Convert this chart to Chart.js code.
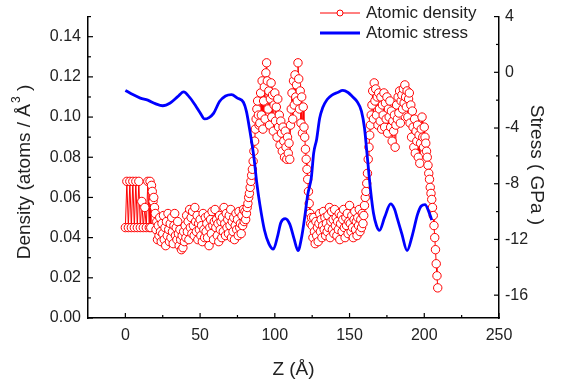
<!DOCTYPE html>
<html>
<head>
<meta charset="utf-8">
<script src="https://cdn.jsdelivr.net/npm/chart.js@4.4.1/dist/chart.umd.min.js"></script>
<style>
  html, body { margin: 0; padding: 0; background: #fff; }
</style>
</head>
<body>
<canvas id="densityChart" width="562" height="384"></canvas>
<script>
// sampling grid helper for the Z axis (positions only, not data)
function range(start, end, step) {
  const out = [];
  for (let v = start; v <= end + 1e-9; v += step) out.push(+v.toFixed(2));
  return out;
}

// Z positions (Å) of the density profile
const densityZ = [...range(0, 16, 1), ...range(16.5, 209, 0.5)];

// atomic density (atoms / Å^3)
const density = [
  // 0 - 16 (step 1)
  0.045, 0.068, 0.045, 0.068, 0.045, 0.068, 0.045, 0.068, 0.045, 0.068,
  0.045, 0.058, 0.045, 0.055, 0.045, 0.068, 0.045,
  // 16.5 - 19.5
  0.068, 0.045, 0.066, 0.063, 0.058, 0.060, 0.055,
  // 20 - 79.5
  0.052, 0.044, 0.048, 0.039, 0.046, 0.041, 0.050, 0.043, 0.038, 0.047,
  0.042, 0.051, 0.039, 0.045, 0.036, 0.048, 0.041, 0.052, 0.044, 0.038,
  0.047, 0.040, 0.050, 0.043, 0.037, 0.046, 0.052, 0.041, 0.045, 0.039,
  0.048, 0.042, 0.036, 0.044, 0.039, 0.034, 0.041, 0.035, 0.043, 0.038,
  0.046, 0.040, 0.051, 0.043, 0.048, 0.039, 0.054, 0.045, 0.050, 0.042,
  0.053, 0.046, 0.041, 0.055, 0.048, 0.043, 0.051, 0.039, 0.047, 0.044,
  0.049, 0.041, 0.046, 0.038, 0.052, 0.044, 0.040, 0.050, 0.043, 0.047,
  0.040, 0.051, 0.036, 0.045, 0.049, 0.042, 0.053, 0.046, 0.039, 0.048,
  0.054, 0.045, 0.049, 0.041, 0.047, 0.038, 0.051, 0.044, 0.048, 0.040,
  0.050, 0.043, 0.055, 0.047, 0.041, 0.052, 0.045, 0.049, 0.042, 0.051,
  0.046, 0.054, 0.040, 0.048, 0.043, 0.050, 0.039, 0.046, 0.052, 0.044,
  0.049, 0.041, 0.053, 0.045, 0.047, 0.042, 0.051, 0.046, 0.054, 0.048,
  // 80 - 89.5
  0.053, 0.049, 0.052, 0.055, 0.057, 0.060, 0.062, 0.065, 0.068, 0.071,
  0.074, 0.078, 0.083, 0.088, 0.094, 0.099, 0.104, 0.108, 0.101, 0.096,
  // 90 - 119.5
  0.097, 0.112, 0.101, 0.118, 0.094, 0.108, 0.115, 0.099, 0.122, 0.127,
  0.118, 0.104, 0.113, 0.096, 0.109, 0.117, 0.100, 0.111, 0.093, 0.106,
  0.112, 0.098, 0.105, 0.090, 0.109, 0.095, 0.101, 0.086, 0.098, 0.092,
  0.083, 0.095, 0.088, 0.080, 0.093, 0.085, 0.079, 0.090, 0.082, 0.087,
  0.079, 0.096, 0.104, 0.112, 0.099, 0.118, 0.106, 0.121, 0.110, 0.116,
  0.108, 0.127, 0.119, 0.104, 0.113, 0.097, 0.110, 0.092, 0.105, 0.095,
  // 120 - 124.5
  0.090, 0.084, 0.079, 0.074, 0.069, 0.063, 0.057, 0.052, 0.047, 0.050,
  // 125 - 159.5
  0.046, 0.040, 0.050, 0.043, 0.037, 0.048, 0.041, 0.045, 0.038, 0.047,
  0.052, 0.043, 0.049, 0.040, 0.046, 0.053, 0.044, 0.050, 0.041, 0.047,
  0.043, 0.051, 0.045, 0.055, 0.040, 0.048, 0.053, 0.044, 0.049, 0.042,
  0.054, 0.046, 0.050, 0.041, 0.048, 0.044, 0.052, 0.039, 0.047, 0.051,
  0.043, 0.049, 0.054, 0.045, 0.040, 0.050, 0.046, 0.052, 0.042, 0.048,
  0.056, 0.047, 0.043, 0.051, 0.045, 0.040, 0.049, 0.053, 0.044, 0.048,
  0.041, 0.050, 0.046, 0.054, 0.043, 0.049, 0.045, 0.052, 0.047, 0.051,
  // 160 - 204.5
  0.056, 0.060, 0.063, 0.067, 0.072, 0.079, 0.085, 0.091, 0.096, 0.101,
  0.106, 0.113, 0.099, 0.117, 0.108, 0.114, 0.101, 0.110, 0.096, 0.112,
  0.104, 0.098, 0.110, 0.094, 0.106, 0.101, 0.112, 0.095, 0.107, 0.099,
  0.110, 0.092, 0.104, 0.100, 0.108, 0.095, 0.103, 0.088, 0.098, 0.093,
  0.101, 0.085, 0.096, 0.106, 0.099, 0.110, 0.102, 0.113, 0.097, 0.108,
  0.111, 0.104, 0.114, 0.107, 0.116, 0.110, 0.105, 0.113, 0.100, 0.109,
  0.112, 0.097, 0.106, 0.090, 0.103, 0.095, 0.085, 0.099, 0.082, 0.093,
  0.088, 0.096, 0.080, 0.091, 0.077, 0.087, 0.094, 0.100, 0.090, 0.085,
  0.095, 0.090, 0.087, 0.083, 0.080, 0.076, 0.072, 0.069, 0.065, 0.062,
  // 205 - 209
  0.059, 0.055, 0.051, 0.046, 0.040, 0.034, 0.027, 0.021, 0.015
];

// atomic stress (GPa) along Z
const stressZ = [
  0, 5, 10, 15, 20, 25, 30, 35, 39, 43, 47, 50, 53, 56, 59, 63, 67, 71, 75, 79,
  81, 83, 86, 88, 90, 93, 96, 99, 102, 104, 107, 110, 113, 115.5, 118, 120, 122,
  124.5, 126, 128, 130, 132, 135, 138, 142, 145.5, 149, 152, 155, 158, 160, 162,
  164, 166, 168, 170, 173.5, 177.5, 180, 182, 185, 188.5, 192, 195.5, 198, 200.5,
  203, 205
];
const stress = [
  -1.3, -1.6, -1.85, -2.0, -2.25, -2.4, -2.2, -1.75, -1.4, -1.8, -2.4, -2.9, -3.35, -3.25, -2.95, -2.1, -1.7, -1.6, -1.85, -2.15,
  -2.8, -4.0, -6.1, -8.0, -9.5, -11.3, -12.3, -12.7, -11.7, -10.8, -10.5, -10.9, -12.0, -12.8, -11.8, -10.4, -8.8,
  -7.5, -5.8, -4.8, -3.3, -2.55, -1.95, -1.65, -1.45, -1.3, -1.45, -1.75, -2.1, -2.8, -4.0, -6.2,
  -8.4, -10.1, -11.0, -11.35, -10.4, -9.45, -9.8, -10.5, -11.6, -12.8, -11.7, -10.2, -9.6, -9.5,
  -10.0, -10.6
];

// axis ticks
const zTicks = [0, 50, 100, 150, 200, 250];
const zMinor = [25, 75, 125, 175, 225];
const densityTicks = [0, 0.02, 0.04, 0.06, 0.08, 0.10, 0.12, 0.14];
const densityMinor = [0.01, 0.03, 0.05, 0.07, 0.09, 0.11, 0.13, 0.15];
const stressTicks = [4, 0, -4, -8, -12, -16];
const stressMinor = [2, -2, -6, -10, -14];

const FONT = "'Liberation Sans', Arial, sans-serif";
const TEXT = '#222';

Chart.defaults.font.family = FONT;
Chart.defaults.color = TEXT;

function setTicks(values) {
  return function (scale) {
    scale.ticks = values.map(v => ({ value: v }));
  };
}

// inward ticks, axis titles and legend
const decor = {
  id: 'decor',
  afterDraw(chart) {
    const ctx = chart.ctx;
    const area = chart.chartArea;
    const { x, y, y2 } = chart.scales;
    ctx.save();
    ctx.strokeStyle = '#000';
    ctx.lineWidth = 1.2;

    const seg = (x1, y1, x2, y2_) => {
      ctx.beginPath();
      ctx.moveTo(x1, y1);
      ctx.lineTo(x2, y2_);
      ctx.stroke();
    };
    zTicks.forEach(v => { const p = x.getPixelForValue(v); seg(p, area.bottom, p, area.bottom - 5); });
    zMinor.forEach(v => { const p = x.getPixelForValue(v); seg(p, area.bottom, p, area.bottom - 3); });
    densityTicks.forEach(v => { const p = y.getPixelForValue(v); seg(area.left, p, area.left + 5, p); });
    densityMinor.forEach(v => { const p = y.getPixelForValue(v); seg(area.left, p, area.left + 3, p); });
    stressTicks.forEach(v => { const p = y2.getPixelForValue(v); seg(area.right, p, area.right - 5, p); });
    stressMinor.forEach(v => { const p = y2.getPixelForValue(v); seg(area.right, p, area.right - 3, p); });

    // axis titles
    ctx.fillStyle = TEXT;
    ctx.textBaseline = 'middle';
    ctx.textAlign = 'center';
    ctx.font = '19px ' + FONT;
    ctx.fillText('Z (Å)', (area.left + area.right) / 2, 370);

    // left title with superscript 3
    ctx.save();
    ctx.translate(25, 172);
    ctx.rotate(-Math.PI / 2);
    const partA = 'Density (atoms / Å';
    const partB = ' )';
    ctx.font = '19px ' + FONT;
    const wA = ctx.measureText(partA).width;
    const wB = ctx.measureText(partB).width;
    ctx.font = '12px ' + FONT;
    const wS = ctx.measureText('3').width + 1;
    const sx = -(wA + wS + wB) / 2;
    ctx.textAlign = 'left';
    ctx.font = '19px ' + FONT;
    ctx.fillText(partA, sx, 0);
    ctx.font = '12px ' + FONT;
    ctx.fillText('3', sx + wA + 1, -8);
    ctx.font = '19px ' + FONT;
    ctx.fillText(partB, sx + wA + wS, 0);
    ctx.restore();

    ctx.save();
    ctx.translate(536, 165);
    ctx.rotate(Math.PI / 2);
    ctx.textAlign = 'center';
    ctx.font = '19px ' + FONT;
    ctx.fillText('Stress ( GPa )', 0, 0);
    ctx.restore();

    // legend
    ctx.textAlign = 'left';
    ctx.font = '17px ' + FONT;
    ctx.strokeStyle = '#ff0000';
    ctx.lineWidth = 1;
    seg(320, 13, 360, 13);
    ctx.beginPath();
    ctx.arc(340, 13, 3, 0, Math.PI * 2);
    ctx.fillStyle = '#fff';
    ctx.fill();
    ctx.stroke();
    ctx.fillStyle = TEXT;
    ctx.fillText(chart.data.datasets[0].label, 366, 13);

    ctx.strokeStyle = '#0000ff';
    ctx.lineWidth = 2.8;
    seg(320, 33, 360, 33);
    ctx.fillText(chart.data.datasets[1].label, 366, 33);
    ctx.restore();
  }
};

const ctx = document.getElementById('densityChart').getContext('2d');
const densityChart = new Chart(ctx, {
  type: 'line',
  data: {
    datasets: [{
      label: 'Atomic density',
      data: densityZ.map((z, i) => ({ x: z, y: density[i] })),
      yAxisID: 'y',
      borderColor: '#ff0000',
      borderWidth: 1,
      pointRadius: 4.2,
      pointBorderWidth: 1,
      pointBorderColor: '#ff0000',
      pointBackgroundColor: '#ffffff',
      tension: 0,
      order: 2
    }, {
      label: 'Atomic stress',
      data: stressZ.map((z, i) => ({ x: z, y: stress[i] })),
      yAxisID: 'y2',
      borderColor: '#0000ff',
      borderWidth: 2.8,
      pointRadius: 0,
      cubicInterpolationMode: 'monotone',
      order: 1
    }]
  },
  options: {
    responsive: false,
    animation: false,
    devicePixelRatio: 1,
    layout: { padding: { top: 15 } },
    plugins: { legend: { display: false }, tooltip: { enabled: false } },
    scales: {
      x: {
        type: 'linear',
        min: -25,
        max: 250,
        afterBuildTicks: setTicks(zTicks),
        afterFit: s => { s.height = 66; },
        grid: { display: false, drawTicks: false },
        border: { display: true, color: '#000', width: 1.5 },
        ticks: { font: { size: 16 }, padding: 8, autoSkip: false, maxRotation: 0, callback: v => String(v) }
      },
      y: {
        position: 'left',
        min: 0,
        max: 0.15,
        afterBuildTicks: setTicks(densityTicks),
        afterFit: s => { s.width = 88; },
        grid: { display: false, drawTicks: false },
        border: { display: true, color: '#000', width: 1.5 },
        ticks: { font: { size: 16 }, padding: 7, autoSkip: false, callback: v => v.toFixed(2) }
      },
      y2: {
        position: 'right',
        min: -17.64,
        max: 4,
        afterBuildTicks: setTicks(stressTicks),
        afterFit: s => { s.width = 63; },
        grid: { display: false, drawTicks: false },
        border: { display: true, color: '#000', width: 1.5 },
        ticks: { font: { size: 16 }, padding: 6, autoSkip: false, callback: v => String(v) }
      }
    }
  },
  plugins: [decor]
});
</script>
</body>
</html>
